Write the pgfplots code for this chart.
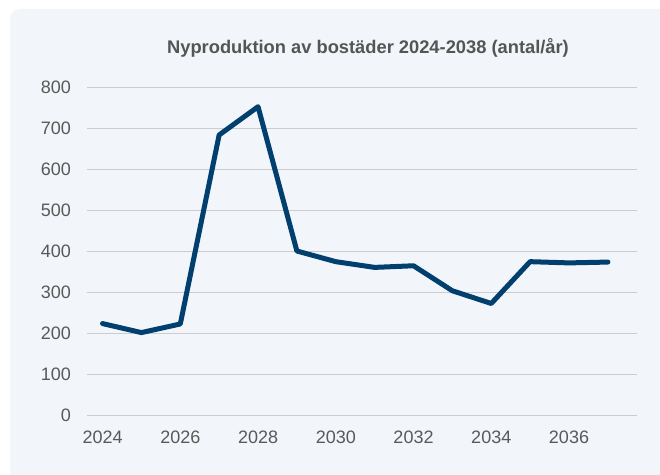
\documentclass[border=0pt]{standalone}
\usepackage{pgfplots}
\pgfplotsset{compat=1.18}
\usepackage{fontspec}
\setmainfont{Liberation Sans}
\definecolor{bgc}{HTML}{F2F5F9}
\definecolor{linec}{HTML}{003F6E}
\definecolor{gridc}{HTML}{CCCCCC}
\definecolor{tickc}{HTML}{595959}
\definecolor{titlec}{HTML}{555555}
\begin{document}
\begin{tikzpicture}[x=1pt,y=1pt]
\clip (0,0) rectangle (660,474);
\path[use as bounding box] (0,0) rectangle (660,474);
\fill[white] (0,0) rectangle (660,474);
\fill[bgc, rounded corners=10pt] (10,-20) rectangle (690,465);
\node[font=\fontsize{18.3}{20}\selectfont\bfseries, text=titlec] at (368,426.5) {Nyproduktion av bostäder 2024-2038 (antal/år)};
\begin{axis}[
  at={(87pt,59pt)}, anchor=south west,
  scale only axis, width=550pt, height=328pt,
  xmin=2023.6, xmax=2037.75, ymin=0, ymax=800,
  axis line style={draw=none},
  ymajorgrids, grid style={gridc, line width=1pt},
  xtick={2024,2026,...,2036},
  ytick={0,100,...,800},
  major tick length=0pt,
  tick style={draw=none},
  /pgf/number format/assume math mode=true,
  /pgf/number format/1000 sep={},
  tick label style={font=\fontsize{18}{20}\selectfont, text=tickc, inner sep=0pt},
  yticklabel style={anchor=east, xshift=-16pt},
  xticklabel style={anchor=north, yshift=-16pt},
  clip=false,
]
\addplot[linec, line width=5pt, line join=round, line cap=round] coordinates {
(2024,223) (2025,201) (2026,222) (2027,683) (2028,752) (2029,400) (2030,374)
(2031,360) (2032,364) (2033,303) (2034,272) (2035,374) (2036,371) (2037,373)
};
\end{axis}
\end{tikzpicture}
\end{document}
